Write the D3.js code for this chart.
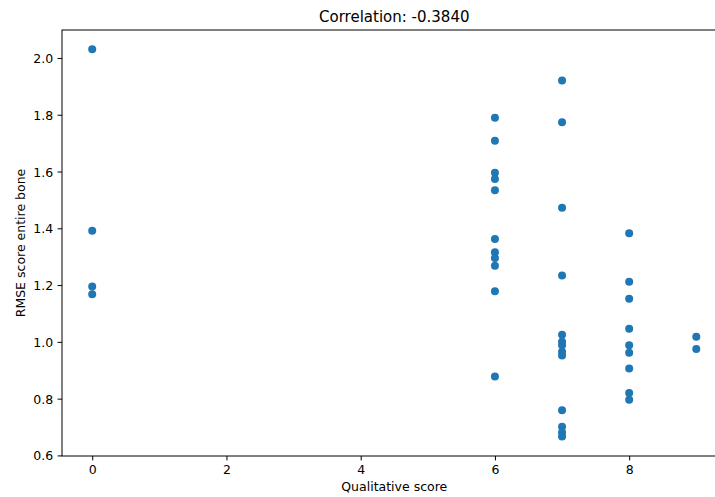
<!DOCTYPE html>
<html>
<head>
<meta charset="utf-8">
<script src="https://cdn.jsdelivr.net/npm/d3@7"></script>
<style>
  html, body { margin: 0; padding: 0; background: #fff; }
  svg { display: block; font-family: "DejaVu Sans", sans-serif; }
</style>
</head>
<body>
<svg id="chart" width="715" height="497"></svg>
<script>
// Data
const qualitativeScore = [
  0, 0, 0, 0,
  6, 6, 6, 6, 6, 6, 6, 6, 6, 6, 6,
  7, 7, 7, 7, 7, 7, 7, 7, 7, 7, 7, 7, 7,
  8, 8, 8, 8, 8, 8, 8, 8, 8,
  9, 9
];
const rmseScore = [
  2.031, 1.391, 1.195, 1.168,
  1.789, 1.708, 1.596, 1.574, 1.534, 1.362, 1.316, 1.295, 1.268, 1.178, 0.878,
  1.921, 1.774, 1.472, 1.234, 1.025, 1.000, 0.988, 0.965, 0.952, 0.759, 0.701, 0.681, 0.667,
  1.383, 1.212, 1.152, 1.046, 0.988, 0.962, 0.906, 0.820, 0.796,
  1.018, 0.975
];
const xTicks = [0, 2, 4, 6, 8];
const yTicks = [0.6, 0.8, 1.0, 1.2, 1.4, 1.6, 1.8, 2.0];
const titleText = "Correlation: -0.3840";
const xLabel = "Qualitative score";
const yLabel = "RMSE score entire bone";

const svg = d3.select("#chart");
const mLeft = 62, mRight = 726.5, mTop = 30, mBottom = 456;

const x = d3.scaleLinear().domain([-0.45, 9.45]).range([mLeft, mRight]);
const y = d3.scaleLinear().domain([0.598, 2.0985]).range([mBottom, mTop]);

const xAxis = d3.axisBottom(x).tickValues(xTicks).tickFormat(d3.format("d"))
  .tickSizeInner(4.4).tickSizeOuter(0).tickPadding(4.4);
const yAxis = d3.axisLeft(y).tickValues(yTicks).tickFormat(d3.format(".1f"))
  .tickSizeInner(4.4).tickSizeOuter(0).tickPadding(4.4);

const gx = svg.append("g").attr("transform", `translate(0,${mBottom})`).call(xAxis);
const gy = svg.append("g").attr("transform", `translate(${mLeft},0)`).call(yAxis);
[gx, gy].forEach(g => {
  g.select(".domain").remove();
  g.selectAll(".tick line").attr("stroke", "#000").attr("stroke-width", 1);
  g.selectAll(".tick text").attr("fill", "#000").style("font-size", "12.5px")
    .style("font-family", "DejaVu Sans, sans-serif");
});
gy.selectAll(".tick text").attr("dy", "0.36em");
gx.selectAll(".tick text").attr("dy", "0.74em");

// points
svg.append("g").selectAll("circle")
  .data(qualitativeScore.map((q, i) => [q, rmseScore[i]]))
  .join("circle")
  .attr("cx", d => x(d[0]))
  .attr("cy", d => y(d[1]))
  .attr("r", 4)
  .attr("fill", "#1f77b4");

// spines
svg.append("rect")
  .attr("x", mLeft).attr("y", mTop)
  .attr("width", mRight - mLeft).attr("height", mBottom - mTop)
  .attr("fill", "none").attr("stroke", "#000").attr("stroke-width", 1);

// title
svg.append("text")
  .attr("x", (mLeft + mRight) / 2).attr("y", 22)
  .attr("text-anchor", "middle")
  .style("font-size", "15px").attr("fill", "#000")
  .text(titleText);

// x label
svg.append("text")
  .attr("x", (mLeft + mRight) / 2).attr("y", 491)
  .attr("text-anchor", "middle")
  .style("font-size", "12.5px").attr("fill", "#000")
  .text(xLabel);

// y label
svg.append("text")
  .attr("transform", `translate(25,${(mTop + mBottom) / 2}) rotate(-90)`)
  .attr("text-anchor", "middle")
  .style("font-size", "12.5px").attr("fill", "#000")
  .text(yLabel);
</script>
</body>
</html>
